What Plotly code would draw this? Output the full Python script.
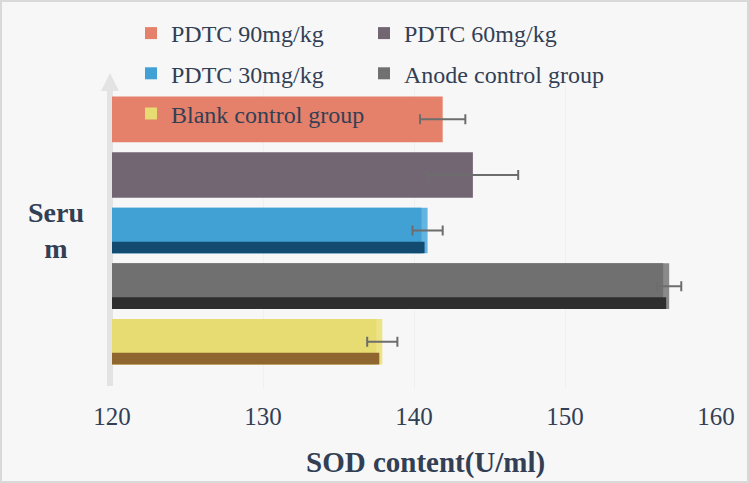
import plotly.graph_objects as go

# ---- data ----
category = "Serum"
series = ["PDTC 90mg/kg", "PDTC 60mg/kg", "PDTC 30mg/kg", "Anode control group", "Blank control group"]
values = [141.9, 143.9, 140.9, 156.9, 137.9]
errors = [1.5, 3.0, 1.0, 0.8, 1.0]
x_ticks = [120, 130, 140, 150, 160]
x_title = "SOD content(U/ml)"

# ---- style ----
front_colors = ["#e5806b", "#726672", "#41a0d4", "#707070", "#e6dc72"]
side_colors = [None, None, "#63b4e0", "#8a8a8a", "#ece384"]
bottom_colors = [None, None, "#134a70", "#2e2e2e", "#8f6530"]
legend_ids = ["legend", "legend2", "legend", "legend2", "legend"]
positions = [4, 3, 2, 1, 0]  # top to bottom
BAR_W = 0.82
STRIP_W = 0.21
DEPTH = 0.4
TXT = "#323f55"
FONT = "Liberation Serif"

W, H = 749, 483
ML, MR, MT, MB = 112, 33, 86, 94
PW, PH = W - ML - MR, H - MT - MB


def px_x(p):
    return (p - ML) / PW


def px_y(p):
    return (H - MB - p) / PH


fig = go.Figure()
for i, name in enumerate(series):
    y = [positions[i]]
    if side_colors[i] is None:
        fig.add_trace(go.Bar(
            x=[values[i]], y=y, orientation="h", name=name,
            width=BAR_W, offset=-BAR_W / 2,
            marker=dict(color=front_colors[i], line=dict(width=0)),
            legend=legend_ids[i], legendgroup=name, hoverinfo="skip"))
    else:
        # side face (light)
        fig.add_trace(go.Bar(
            x=[values[i]], y=y, orientation="h", showlegend=False,
            width=BAR_W, offset=-BAR_W / 2,
            marker=dict(color=side_colors[i], line=dict(width=0)), hoverinfo="skip"))
        # front face
        fig.add_trace(go.Bar(
            x=[values[i] - DEPTH], y=y, orientation="h", name=name,
            width=BAR_W, offset=-BAR_W / 2,
            marker=dict(color=front_colors[i], line=dict(width=0)),
            legend=legend_ids[i], legendgroup=name, hoverinfo="skip"))
        # bottom face (dark)
        fig.add_trace(go.Bar(
            x=[values[i] - DEPTH / 2], y=y, orientation="h", showlegend=False,
            width=STRIP_W, offset=-BAR_W / 2,
            marker=dict(color=bottom_colors[i], line=dict(width=0)), hoverinfo="skip"))

# error bars on top
fig.add_trace(go.Scatter(
    x=values, y=positions, mode="markers", showlegend=False,
    marker=dict(size=1, opacity=0),
    error_x=dict(type="data", array=errors, color="#6d6d6d", thickness=2, width=5),
    hoverinfo="skip"))

shapes = [
    # outer frame
    dict(type="rect", xref="paper", yref="paper",
         x0=px_x(1), x1=px_x(W - 1), y0=px_y(H - 1), y1=px_y(1),
         line=dict(color="#d9d9d9", width=2), fillcolor="rgba(0,0,0,0)", layer="below"),
    # axis arrow shaft
    dict(type="line", xref="paper", yref="paper",
         x0=px_x(110), x1=px_x(110), y0=px_y(386), y1=px_y(88),
         line=dict(color="#e3e3e3", width=6), layer="below"),
    # arrow head
    dict(type="path", xref="paper", yref="paper",
         path=f"M {px_x(101)} {px_y(91)} L {px_x(110)} {px_y(73)} L {px_x(119)} {px_y(91)} Z",
         line=dict(width=0), fillcolor="#e3e3e3", layer="below"),
]

legend_style = dict(xanchor="left", yanchor="top", bgcolor="rgba(0,0,0,0)",
                    font=dict(size=24, family=FONT, color=TXT),
                    tracegroupgap=6, traceorder="grouped")

fig.update_layout(
    width=W, height=H,
    margin=dict(l=ML, r=MR, t=MT, b=MB, autoexpand=False),
    paper_bgcolor="#f7f7f7", plot_bgcolor="#f7f7f7",
    barmode="overlay",
    font=dict(family=FONT, color=TXT),
    shapes=shapes,
    xaxis=dict(range=[x_ticks[0], x_ticks[-1]], tickvals=x_ticks,
               tickfont=dict(size=25, family=FONT, color=TXT),
               ticks="outside", ticklen=5, tickcolor="rgba(0,0,0,0)",
               showgrid=True, gridcolor="#f0f0f0", gridwidth=1, zeroline=False, showline=False),
    yaxis=dict(range=[-0.85, 4.6], showticklabels=False, showgrid=False, zeroline=False,
               ticks="", showline=False),
    annotations=[
        dict(text=f"<b>{category[:4]}<br>{category[4:]}</b>", xref="paper", yref="y",
             x=px_x(56), y=positions[2], xanchor="center", yanchor="middle",
             showarrow=False, align="center",
             font=dict(size=28, family=FONT, color=TXT)),
        dict(text=f"<b>{x_title}</b>", xref="paper", yref="paper",
             x=px_x(425), y=px_y(462), xanchor="center", yanchor="middle",
             showarrow=False, font=dict(size=29, family=FONT, color=TXT)),
    ],
    legend=dict(x=px_x(131), y=px_y(11), **legend_style),
    legend2=dict(x=px_x(364), y=px_y(11), **legend_style),
)

fig.write_html("out.html", config={"displayModeBar": False},
               post_script="document.body.style.margin='0';document.body.style.overflow='hidden';")
